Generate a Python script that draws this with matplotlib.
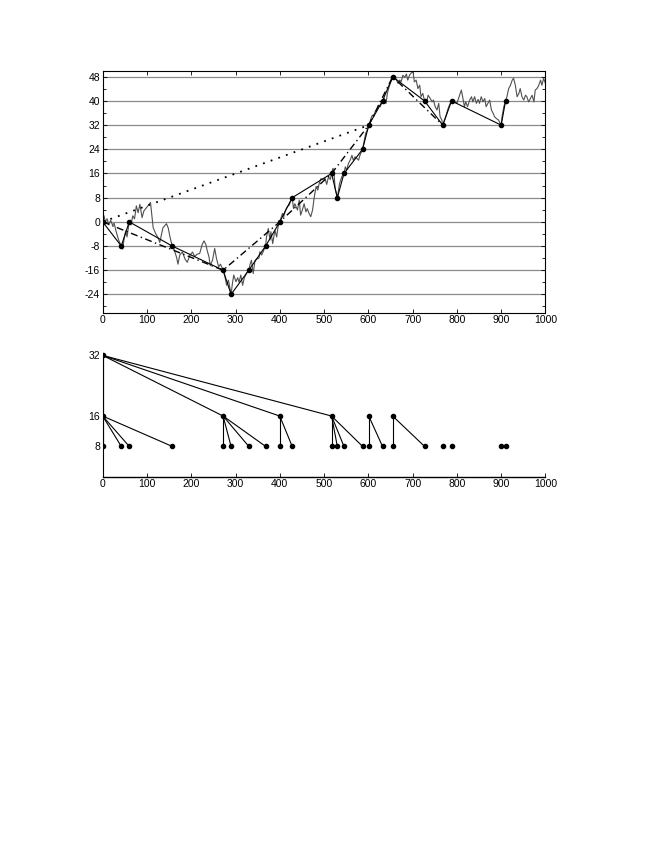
import matplotlib
matplotlib.use("Agg")
import matplotlib.pyplot as plt
from matplotlib.ticker import MultipleLocator

# random walk path
walk_x = [0, 3, 6, 10, 14, 18, 22, 26, 30, 36, 42, 45, 48, 52, 55, 58, 60, 64, 68, 72, 76, 80, 84, 89,
          93, 98, 105, 108, 114, 120, 125, 129, 133, 136, 140, 144, 148, 152, 157, 161, 167, 170, 174,
          180, 186, 191, 197, 203, 208, 213, 219, 225, 229, 233, 236, 240, 243, 248, 253, 257, 262, 266,
          272, 276, 280, 284, 290, 293, 296, 301, 305, 308, 312, 316, 320, 325, 330, 333, 336, 340, 344,
          348, 353, 355, 359, 368, 370, 374, 378, 380, 384, 389, 393, 396, 400, 406, 409, 413, 417, 421,
          428, 431, 434, 440, 444, 447, 451, 455, 459, 462, 466, 470, 474, 478, 482, 486, 489, 493, 497,
          502, 506, 510, 514, 517, 520, 522, 525, 530, 535, 540, 545, 548, 551, 555, 559, 563, 566, 570,
          574, 578, 581, 587, 591, 594, 598, 601, 606, 609, 612, 615, 619, 623, 627, 632, 636, 640, 643,
          647, 651, 655, 662, 667, 671, 674, 678, 682, 686, 689, 693, 697, 701, 704, 708, 712, 716, 719,
          723, 727, 731, 735, 739, 744, 747, 751, 755, 759, 762, 766, 768, 775, 779, 783, 788, 793, 796,
          800, 806, 810, 813, 817, 820, 824, 829, 833, 836, 840, 844, 848, 851, 855, 859, 863, 866, 870,
          874, 878, 882, 885, 889, 894, 900, 902, 906, 910, 913, 917, 921, 925, 928, 932, 936, 940, 943,
          947, 951, 955, 958, 962, 966, 970, 974, 977, 981, 985, 989, 992, 996, 1000]
walk_y = [0, 2, 0, 1, -1, 0.5, -1, -0.5, -3, -6, -8, -9, -6, -3, -5, -2, 0, -1, 2, 1, 5.3, 3, 5.8, 1.4,
          3.6, 4.5, 5.8, 6.4, -1.9, -4, -5.2, -6.8, -4, -2, -1.3, -0.6, -2, -5, -8, -9, -11.8, -14, -11,
          -10, -12.3, -13.4, -11, -10, -11.5, -10.7, -10.5, -7.4, -6.3, -7.5, -9.5, -11.5, -14.5, -12.7,
          -8.8, -12.1, -14.9, -14, -16, -18, -21, -19.3, -24, -20.4, -17.6, -19.8, -18.5, -20, -17.6,
          -21, -18.5, -17, -16, -14, -12.7, -17.1, -12.8, -12.3, -12, -9.9, -11, -8, -5, -2.2, -6, -3.3,
          -7.2, -2.8, -5, -1.7, 0, 2.8, 1.7, 3.9, 5, 5.5, 8, 4.4, 6, 3.9, 7.2, 2.2, 3.9, 6, 3.3, 4.4,
          2.8, 1.7, 3.9, 8.3, 11.6, 10.5, 12.7, 14.3, 14, 14.4, 12.4, 14.9, 14, 16, 17.7, 17.2, 11, 8,
          12.7, 14.9, 16, 18.2, 17.1, 19.3, 20.4, 22, 20.4, 21.5, 21, 20.4, 22, 24, 27, 29.3, 30.4, 32,
          34.2, 35.3, 34.8, 36.4, 37, 38.6, 38.1, 40, 40.8, 39.2, 42.5, 44.7, 46.3, 48, 47.4, 45.8, 46.9,
          46.3, 48.5, 47.8, 48.9, 46.9, 48.5, 49.3, 49.6, 46.3, 46.9, 44.1, 45.2, 41.4, 42.5, 40, 39.2,
          41.9, 41, 39.7, 40.3, 38.1, 37, 39.2, 34.8, 33.7, 32, 34.8, 37, 38.6, 40, 40.3, 39.7, 39.2,
          41.9, 43.6, 41.4, 38.1, 39.7, 38.1, 40.3, 41.4, 39.7, 41.4, 39.2, 40.5, 39.2, 41.4, 39.7, 40.8,
          38.1, 39.2, 40.3, 37, 35.9, 34.8, 34.2, 33.7, 32, 34.8, 38.1, 40, 41.4, 44.1, 45.2, 46.9, 47.5,
          45.2, 41.4, 42.5, 44.1, 41.4, 40.3, 41.9, 41.4, 39.7, 40.8, 41.9, 39.7, 43.6, 44.1, 45.2, 46.9,
          45.2, 47.5, 45.8]

# hitting times of the 8, 16 and 32 grids
level8_x = [0, 42, 60, 157, 272, 290, 330, 368, 400, 428, 517, 530, 545, 587, 601, 632, 655, 727,
            768, 788, 900, 910]
level8_y = [0, -8, 0, -8, -16, -24, -16, -8, 0, 8, 16, 8, 16, 24, 32, 40, 48, 40, 32, 40, 32, 40]
level16_x = [0, 272, 400, 517, 601, 655, 768]
level16_y = [0, -16, 0, 16, 32, 48, 32]
level32_x = [0, 601]
level32_y = [0, 32]

# tree in the lower panel
tree16_x = [0, 272, 400, 517, 601, 655]
tree16_parent = [0, 0, 0, 0, None, None]
tree8_parent = [0, 0, 0, 0, 272, 272, 272, 272, 400, 400, 517, 517, 517, 517, 601, 601, 655, 655,
                None, None, None, None]

plt.rcParams['font.family'] = ['Liberation Sans', 'DejaVu Sans']
plt.rcParams['font.size'] = 7.5
plt.rcParams['axes.unicode_minus'] = False

fig = plt.figure(figsize=(6.54, 8.46), dpi=100)

ax = fig.add_axes([0.157, 0.6306, 0.677, 0.2858])
for g in range(-24, 49, 8):
    ax.axhline(g, color='#8a8a8a', lw=0.9, zorder=1)
ax.plot(walk_x, walk_y, color='#505050', lw=0.8, zorder=2)
ax.plot(level8_x, level8_y, color='black', lw=0.8, zorder=3)
ax.plot(level16_x, level16_y, color='black', lw=1.0, ls=(0, (5, 2.5, 1, 2.5)), zorder=3)
ax.plot(level32_x, level32_y, color='black', lw=1.3, ls=(0, (1, 3.5)), zorder=3)
ax.plot(level8_x, level8_y, 'o', color='black', ms=3.0, zorder=4)
ax.set_xlim(0, 1000)
ax.set_ylim(-30, 50)
ax.xaxis.set_major_locator(MultipleLocator(100))
ax.set_yticks(range(-24, 49, 8))
ax.yaxis.set_minor_locator(MultipleLocator(4))
ax.tick_params(which='both', direction='in', top=True, right=True, pad=2)
ax.tick_params(which='major', length=3, width=0.6)
ax.tick_params(which='minor', length=2.5, width=0.6)
for s in ax.spines.values():
    s.set_linewidth(0.8)

bx = fig.add_axes([0.157, 0.4365, 0.677, 0.1524])
for x, p in zip(tree16_x, tree16_parent):
    if p is not None:
        bx.plot([p, x], [32, 16], color='black', lw=0.8)
for x, p in zip(level8_x, tree8_parent):
    if p is not None:
        bx.plot([p, x], [16, 8], color='black', lw=0.8)
bx.plot([0], [32], 'o', color='black', ms=3.0)
bx.plot(tree16_x, [16] * len(tree16_x), 'o', color='black', ms=3.0, ls='none')
bx.plot(level8_x, [8] * len(level8_x), 'o', color='black', ms=3.0, ls='none')
bx.set_xlim(0, 1000)
bx.set_ylim(0, 34)
bx.set_yticks([8, 16, 32])
bx.xaxis.set_major_locator(MultipleLocator(100))
bx.spines['top'].set_visible(False)
bx.spines['right'].set_visible(False)
bx.spines['left'].set_bounds(0, 32)
bx.spines['left'].set_linewidth(0.8)
bx.spines['bottom'].set_linewidth(1.0)
bx.tick_params(direction='in', length=3, width=0.6, pad=2)
for t in bx.yaxis.get_major_ticks():
    t.tick1line.set_visible(False)

fig.savefig('out.png', dpi=100)
